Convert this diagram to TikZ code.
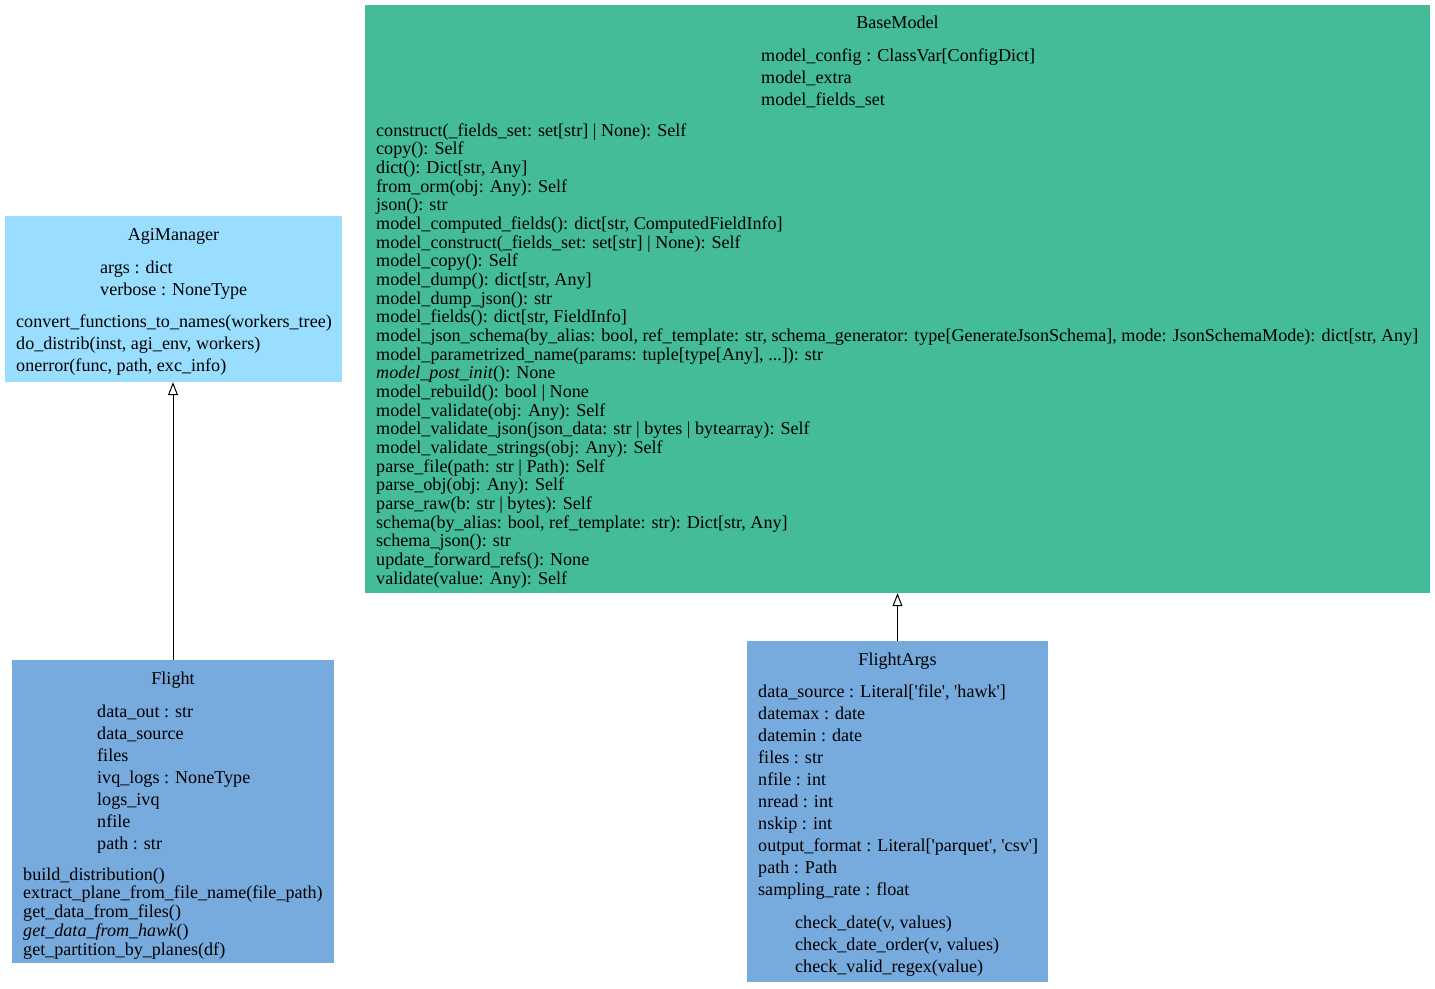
\documentclass[tikz,border=0pt]{standalone}
\usepackage{fontspec}
\setmainfont{Liberation Serif}
\usetikzlibrary{arrows.meta}
\definecolor{cyanL}{HTML}{99DDFF}
\definecolor{mintG}{HTML}{44BB99}
\definecolor{blueL}{HTML}{77AADD}
\newcommand{\q}{\XeTeXglyph\XeTeXglyphindex "quotesingle"\relax}
\newcommand{\threedots}{...}
\begin{document}
\begin{tikzpicture}[x=1pt,y=-1pt,
  every node/.style={font=\fontsize{18.1}{20}\selectfont},
  classbox/.style={draw=none, inner sep=0pt, rectangle},
  txt/.style={inner sep=0pt, anchor=base west},
  ttl/.style={inner sep=0pt, anchor=base},
  inh/.style={draw=black, line width=1pt, -{Triangle[open,length=13pt,width=10pt]}}]
\useasboundingbox (0,0) rectangle (1435,988);
% boxes
\node[classbox, fill=cyanL, minimum width=337pt, minimum height=166pt] (agi) at (173.5,299) {};
\node[classbox, fill=mintG, minimum width=1065pt, minimum height=588pt] (base) at (897.5,299) {};
\node[classbox, fill=blueL, minimum width=322pt, minimum height=303pt] (flight) at (173,811.5) {};
\node[classbox, fill=blueL, minimum width=301pt, minimum height=341pt] (fargs) at (897.5,811.5) {};
% arrows
\draw[inh] (flight.north) -- (flight.north |- agi.south);
\draw[inh] (fargs.north) -- (fargs.north |- base.south);
% AgiManager
\node[ttl] (agiT) at (173.5,240) {AgiManager};
\node[txt] (agiA1) at (100,273) {args : dict};
\node[txt] (agiA2) at (100,295) {verbose : NoneType};
\node[txt] (agiM1) at (16,327) {convert\_functions\_to\_names(workers\_tree)};
\node[txt] (agiM2) at (16,349) {do\_distrib(inst, agi\_env, workers)};
\node[txt] (agiM3) at (16,371) {onerror(func, path, exc\_info)};
% BaseModel
\node[ttl] (bmT) at (897.5,28.5) {BaseModel};
\node[txt] (bmA1) at (761,61) {model\_config : ClassVar[ConfigDict]};
\node[txt] (bmA2) at (761,83) {model\_extra};
\node[txt] (bmA3) at (761,105) {model\_fields\_set};
\foreach \t [count=\i from 0] in {
 {construct(\_fields\_set: set[str] | None): Self},
 {copy(): Self},
 {dict(): Dict[str, Any]},
 {from\_orm(obj: Any): Self},
 {json(): str},
 {model\_computed\_fields(): dict[str, ComputedFieldInfo]},
 {model\_construct(\_fields\_set: set[str] | None): Self},
 {model\_copy(): Self},
 {model\_dump(): dict[str, Any]},
 {model\_dump\_json(): str},
 {model\_fields(): dict[str, FieldInfo]},
 {model\_json\_schema(by\_alias: bool, ref\_template: str, schema\_generator: type[GenerateJsonSchema], mode: JsonSchemaMode): dict[str, Any]},
 {model\_parametrized\_name(params: tuple[type[Any], \threedots]): str},
 {\textit{model\_post\_init}(): None},
 {model\_rebuild(): bool | None},
 {model\_validate(obj: Any): Self},
 {model\_validate\_json(json\_data: str | bytes | bytearray): Self},
 {model\_validate\_strings(obj: Any): Self},
 {parse\_file(path: str | Path): Self},
 {parse\_obj(obj: Any): Self},
 {parse\_raw(b: str | bytes): Self},
 {schema(by\_alias: bool, ref\_template: str): Dict[str, Any]},
 {schema\_json(): str},
 {update\_forward\_refs(): None},
 {validate(value: Any): Self}}
 \node[txt] (bmM\i) at (376,136+\i*18.667) {\t};
% Flight
\node[ttl] (flT) at (173,684) {Flight};
\foreach \t [count=\i from 0] in {
 {data\_out : str}, {data\_source}, {files}, {ivq\_logs : NoneType},
 {logs\_ivq}, {nfile}, {path : str}}
 \node[txt] (flA\i) at (97,717+\i*22) {\t};
\foreach \t [count=\i from 0] in {
 {build\_distribution()},
 {extract\_plane\_from\_file\_name(file\_path)},
 {get\_data\_from\_files()},
 {\textit{get\_data\_from\_hawk}()},
 {get\_partition\_by\_planes(df)}}
 \node[txt] (flM\i) at (23,880+\i*18.75) {\t};
% FlightArgs
\node[ttl] (faT) at (897.5,665) {FlightArgs};
\foreach \t [count=\i from 0] in {
 {data\_source : Literal[\q file\q, \q hawk\q]},
 {datemax : date}, {datemin : date}, {files : str}, {nfile : int},
 {nread : int}, {nskip : int},
 {output\_format : Literal[\q parquet\q, \q csv\q]},
 {path : Path}, {sampling\_rate : float}}
 \node[txt] (faA\i) at (758,697+\i*22) {\t};
\foreach \t [count=\i from 0] in {
 {check\_date(v, values)},
 {check\_date\_order(v, values)},
 {check\_valid\_regex(value)}}
 \node[txt] (faM\i) at (795,928+\i*22) {\t};
\end{tikzpicture}
\end{document}
